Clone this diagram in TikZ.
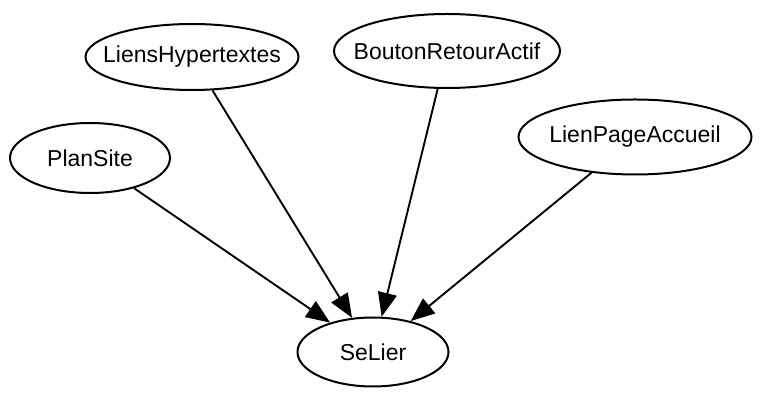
\documentclass[tikz,border=0pt]{standalone}
\usepackage{fontspec}
\setmainfont{Liberation Sans}
\usetikzlibrary{shapes.geometric,arrows.meta}

\newcommand{\etiq}[1]{\makebox[0pt]{#1}}

\begin{document}
\begin{tikzpicture}[x=1pt, y=1pt,
    etat/.style={draw, ellipse, line width=2pt, inner sep=0pt, font=\fontsize{23}{27}\selectfont},
    lien/.style={line width=1.9pt, -{Triangle[length=24pt, width=19pt]}}]
    \useasboundingbox (0,0) rectangle (760,393);

    % Causes (top)
    \node[etat, minimum width=160pt, minimum height=70pt] (plansite) at (90, 235) {\etiq{PlanSite}};
    \node[etat, minimum width=213pt, minimum height=66pt] (lienshyper) at (192, 336) {\etiq{LiensHypertextes}};
    \node[etat, minimum width=226pt, minimum height=74pt] (boutonretour) at (447, 342) {\etiq{BoutonRetourActif}};
    \node[etat, minimum width=233pt, minimum height=75pt] (lienaccueil) at (635, 256) {\etiq{LienPageAccueil}};

    % Effet (bottom)
    \node[etat, minimum width=151pt, minimum height=69pt] (selier) at (373, 41) {\etiq{SeLier}};

    \draw[lien] (plansite) -- (selier);
    \draw[lien] (lienshyper) -- (selier);
    \draw[lien] (boutonretour) -- (selier);
    \draw[lien] (lienaccueil) -- (selier);
\end{tikzpicture}
\end{document}
